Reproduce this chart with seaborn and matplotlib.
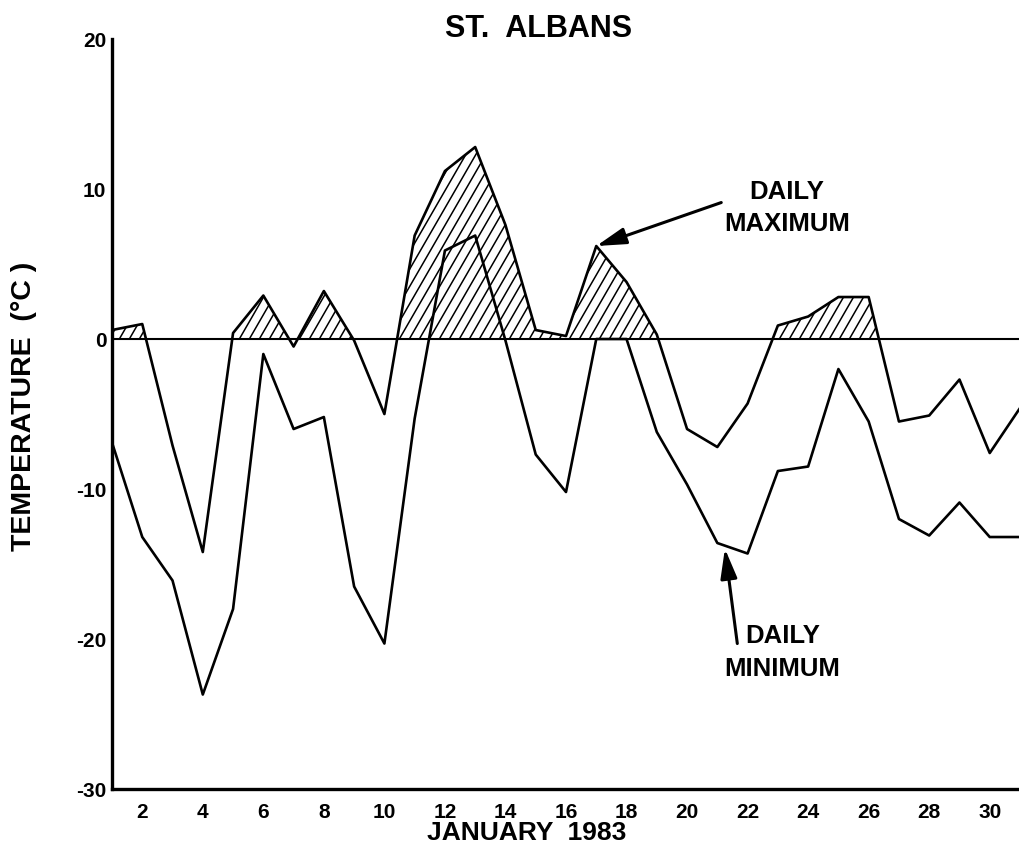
import numpy as np
import pandas as pd
import seaborn as sns
import matplotlib
matplotlib.use("Agg")
import matplotlib.pyplot as plt
from matplotlib.path import Path
from matplotlib.collections import LineCollection

# Daily temperatures, St. Albans, January 1983 (deg C)
days = list(range(1, 32))
daily_max = [0.6, 1.0, -7.1, -14.2, 0.4, 2.9, -0.5, 3.2, -0.1, -5.0,
             6.9, 11.2, 12.8, 7.6, 0.6, 0.2, 6.2, 3.8, 0.3, -6.0,
             -7.2, -4.3, 0.9, 1.5, 2.8, 2.8, -5.5, -5.1, -2.7, -7.6, -4.6]
daily_min = [-6.9, -13.2, -16.1, -23.7, -18.0, -1.0, -6.0, -5.2, -16.5, -20.3,
             -5.3, 5.9, 6.9, -0.1, -7.7, -10.2, 0.0, 0.0, -6.2, -9.7,
             -13.6, -14.3, -8.8, -8.5, -2.0, -5.5, -12.0, -13.1, -10.9, -13.2, -13.2]
x_ticks = list(range(2, 31, 2))
y_ticks = [-30, -20, -10, 0, 10, 20]

sns.set_theme(style="white")
plt.rcParams["font.family"] = ["Liberation Sans", "DejaVu Sans"]
plt.rcParams["font.weight"] = "bold"
plt.rcParams["axes.unicode_minus"] = False

df = pd.DataFrame({"day": days, "tmax": daily_max, "tmin": daily_min})

fig = plt.figure(figsize=(10.2, 8.58), dpi=100)
ax = fig.add_axes([0.1098, 0.0804, 0.8902, 0.8741])

ax.set_xlim(1, 31)
ax.set_ylim(-30, 20)

# freezing line
ax.axhline(0, color="black", lw=1.5, zorder=2)

# hatched area where the daily maximum is above freezing
tmax = np.asarray(daily_max)
poly = ax.fill_between(df["day"], 0, df["tmax"], where=tmax > 0, interpolate=True,
                       facecolor="none", edgecolor="none", zorder=1)
clip = Path.make_compound_path(*poly.get_paths())

# steep diagonal hatch lines (about 60 degrees on screen, 10 px apart)
bbox = ax.get_position()
px_per_day = bbox.width * fig.get_figwidth() * fig.dpi / 30.0
px_per_deg = bbox.height * fig.get_figheight() * fig.dpi / 50.0
slope = np.tan(np.radians(60)) * px_per_day / px_per_deg
step = 10.0 / px_per_day
starts = np.arange(-4.0, 32.0, step)
segs = [[(s, -1.0), (s + 16.0 / slope, 15.0)] for s in starts]
hatch = LineCollection(segs, colors="black", linewidths=1.1, zorder=1)
ax.add_collection(hatch)
hatch.set_clip_path(clip, ax.transData)

sns.lineplot(data=df, x="day", y="tmax", ax=ax, color="black", lw=1.9,
             estimator=None, sort=False, zorder=3)
sns.lineplot(data=df, x="day", y="tmin", ax=ax, color="black", lw=1.9,
             estimator=None, sort=False, zorder=3)

# axes styling
sns.despine(ax=ax)
for side in ("left", "bottom"):
    ax.spines[side].set_linewidth(2.4)
    ax.spines[side].set_color("black")
ax.set_xticks(x_ticks)
ax.set_yticks(y_ticks)
ax.set_xticklabels([str(t) for t in x_ticks], fontsize=15, fontweight="bold")
ax.set_yticklabels([str(t) for t in y_ticks], fontsize=15, fontweight="bold")
ax.tick_params(axis="both", length=0, colors="black")
ax.tick_params(axis="x", pad=10)
ax.tick_params(axis="y", pad=4)

ax.set_xlabel("JANUARY  1983", fontsize=19, fontweight="bold", color="black")
ax.xaxis.set_label_coords(0.457, -0.043)
ax.set_ylabel("TEMPERATURE  (°C )", fontsize=20.5, fontweight="bold", color="black")
ax.yaxis.set_label_coords(-0.083, 0.51)

ax.text(0.47, 1.013, "ST.  ALBANS", transform=ax.transAxes, ha="center",
        va="center", fontsize=22, fontweight="bold", color="black")

# annotations
arrow = dict(arrowstyle="-|>,head_length=1.5,head_width=0.42", color="black",
             lw=2.2, shrinkA=0, shrinkB=0)
ax.annotate("", xy=(17, daily_max[16]), xytext=(21.13, 9.1),
            arrowprops=arrow, zorder=4)
ax.text(23.3, 8.75, "DAILY\nMAXIMUM", ha="center", va="center", fontsize=18.5,
        fontweight="bold", linespacing=1.45, color="black")

tip_day = 21.25
ax.annotate("", xy=(tip_day, np.interp(tip_day, days, daily_min) - 0.2),
            xytext=(21.66, -20.3), arrowprops=arrow, zorder=4)
ax.text(23.15, -20.9, "DAILY\nMINIMUM", ha="center", va="center", fontsize=18.5,
        fontweight="bold", linespacing=1.45, color="black")

fig.savefig("out.png", dpi=100, facecolor="white")
